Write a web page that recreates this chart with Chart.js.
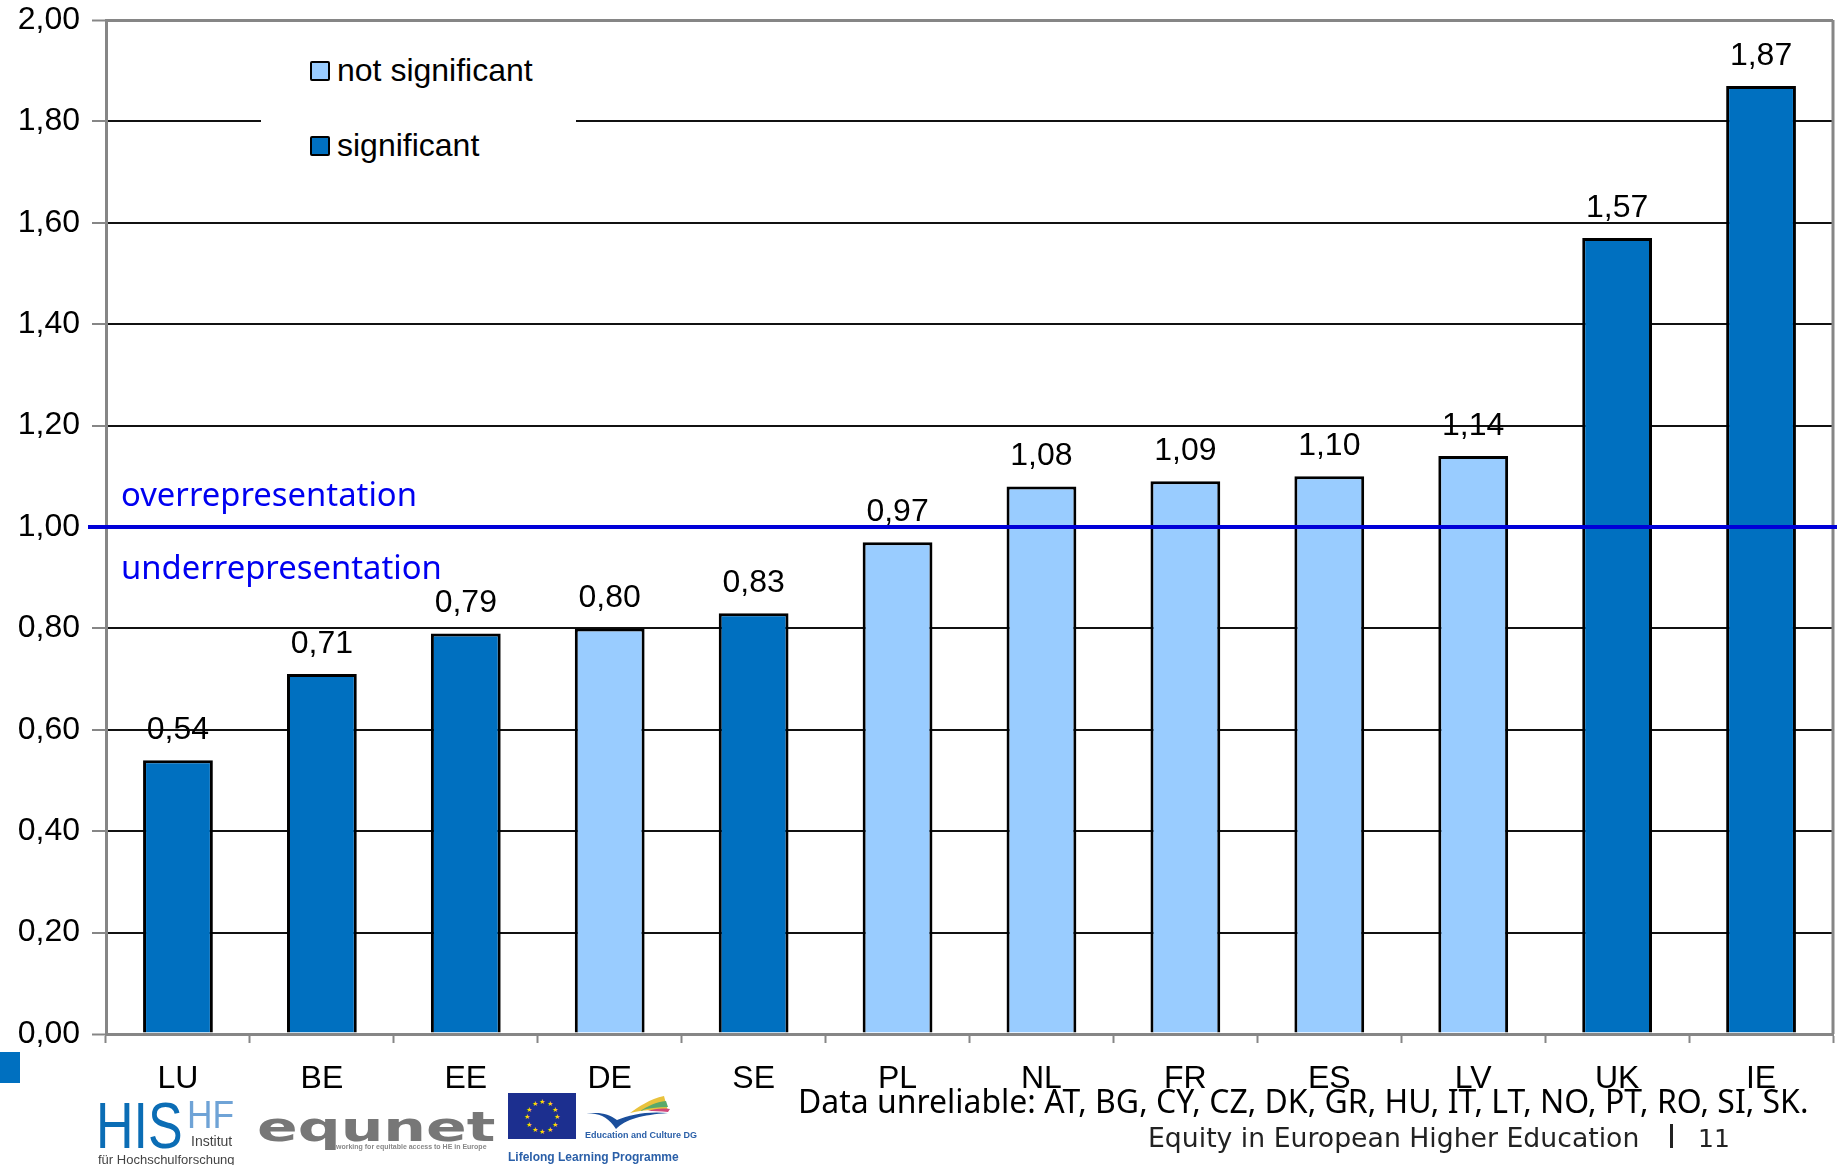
<!DOCTYPE html>
<html>
<head>
<meta charset="utf-8">
<title>Equity in European Higher Education</title>
<script src="https://cdn.jsdelivr.net/npm/chart.js@4"></script>
<style>
    html, body { margin: 0; padding: 0; background: #fff; }
    #page { position: relative; width: 1841px; height: 1165px; overflow: hidden; }
    #chart { position: absolute; left: 0; top: 0; }
    .txt { position: absolute; white-space: nowrap; line-height: 1; transform-origin: left top; }
    #legendBox { position: absolute; left: 261px; top: 30px; width: 315px; height: 136px; background: #fff; }
    .legendRow { position: absolute; left: 49px; font: 32px "Liberation Sans", sans-serif; color: #000; white-space: nowrap; line-height: 34px; }
    .legendRow i { display: inline-block; width: 16px; height: 16px; border: 2.5px solid #000; border-radius: 2px; margin-right: 7px; vertical-align: 0; }
    .blueNote { left: 121px; font: 32.8px "Noto Sans", sans-serif; color: #0000f0; }
    #corner { position: absolute; left: 0; top: 1052px; width: 20px; height: 31px; background: #0070c0; }
</style>
</head>
<body>
<div id="page">
    <canvas id="chart" width="1841" height="1165"></canvas>
    <div id="legendBox"></div>
    <div class="txt blueNote" style="top:471px">overrepresentation</div>
    <div class="txt blueNote" style="top:544px">underrepresentation</div>
    <div id="corner"></div>

    <!-- institute logo -->
    <div class="txt" style="left:96px;top:1088px;font:65px 'Liberation Sans',sans-serif;color:#0b6db5;transform:scaleX(.8)">HIS</div>
    <div class="txt" style="left:187px;top:1094px;font:38px 'Liberation Sans',sans-serif;color:#6fa3d6;transform:scaleX(.93)">HF</div>
    <div class="txt" style="left:191px;top:1133px;font:14px 'Liberation Sans',sans-serif;color:#444">Institut</div>
    <div class="txt" style="left:98px;top:1152px;font:13px 'Liberation Sans',sans-serif;color:#444">für Hochschulforschung</div>

    <!-- network logo -->
    <div class="txt" style="left:257px;top:1104px;font:bold 40px 'DejaVu Sans',sans-serif;color:#777;transform:scaleX(1.5)">equnet</div>
    <div class="txt" style="left:336px;top:1143px;font:bold 7px 'Liberation Sans',sans-serif;color:#888">working for equitable access to HE in Europe</div>

    <!-- programme logo -->
    <svg id="flag" style="position:absolute;left:508px;top:1093px" width="68" height="46"></svg>
    <svg style="position:absolute;left:580px;top:1093px" width="92" height="42" viewBox="0 0 92 42">
        <path d="M2 22 C18 18 28 24 36 36 C46 26 62 22 88 20 C66 18 50 22 37 27 C28 20 16 18 2 22Z" fill="#1b4f9c"/>
        <path d="M50 20 C58 14 70 6 84 3 L88 18 C74 16 62 17 50 20Z" fill="#e9c23d"/>
        <path d="M60 18 C68 13 76 9 86 8 L88 14 C78 14 68 15 60 18Z" fill="#5aa96b"/>
        <path d="M68 18 C74 16 80 15 90 16 L88 19 C80 18 74 18 68 18Z" fill="#d1477a"/>
    </svg>
    <div class="txt" style="left:585px;top:1130px;font:bold 9px 'Liberation Sans',sans-serif;color:#2a5fa8">Education and Culture DG</div>
    <div class="txt" style="left:508px;top:1150px;font:bold 12px 'Liberation Sans',sans-serif;color:#2a5fa8">Lifelong Learning Programme</div>

    <div class="txt" style="left:798px;top:1078px;font:33px 'Noto Sans',sans-serif;color:#000;transform:scaleX(.968)">Data unreliable: AT, BG, CY, CZ, DK, GR, HU, IT, LT, NO, PT, RO, SI, SK.</div>
    <div class="txt" style="left:1148px;top:1122px;font:26.7px 'DejaVu Sans',sans-serif;color:#222">Equity in European Higher Education</div>
    <div class="txt" style="left:1670px;top:1124px;width:3px;height:24px;background:#222"></div>
    <div class="txt" style="left:1698px;top:1124px;font:25px 'DejaVu Sans',sans-serif;color:#222">11</div>
</div>
<script>
const countries = ['LU', 'BE', 'EE', 'DE', 'SE', 'PL', 'NL', 'FR', 'ES', 'LV', 'UK', 'IE'];
const notSignificant = [null, null, null, 0.80, null, 0.97, 1.08, 1.09, 1.10, 1.14, null, null];
const significant = [0.54, 0.71, 0.79, null, 0.83, null, null, null, null, null, 1.57, 1.87];
const yTicks = ['0,00', '0,20', '0,40', '0,60', '0,80', '1,00', '1,20', '1,40', '1,60', '1,80', '2,00'];
const parityValue = 1;

const AXIS_GREY = '#868686';
const LABEL_FONT = '32px "Liberation Sans", sans-serif';

// Decimal comma, same format as the axis
function formatValue(v) {
    return v.toFixed(2).replace('.', ',');
}

// Frame on the right side of the plot
const plotFrame = {
    id: 'plotFrame',
    beforeDatasetsDraw(chart) {
        const { ctx, chartArea } = chart;
        ctx.save();
        ctx.strokeStyle = AXIS_GREY;
        ctx.lineWidth = 3;
        ctx.beginPath();
        ctx.moveTo(chartArea.right, chartArea.top);
        ctx.lineTo(chartArea.right, chartArea.bottom);
        ctx.stroke();
        ctx.restore();
    }
};

// Value above each bar plus the blue line at parity
const barExtras = {
    id: 'barExtras',
    afterDatasetsDraw(chart) {
        const { ctx, chartArea, scales } = chart;
        ctx.save();
        ctx.font = LABEL_FONT;
        ctx.fillStyle = '#000';
        ctx.textAlign = 'center';
        ctx.textBaseline = 'middle';
        chart.data.datasets.forEach((ds, i) => {
            chart.getDatasetMeta(i).data.forEach((bar, j) => {
                if (ds.data[j] === null) return;
                ctx.fillText(formatValue(ds.data[j]), bar.x, bar.y - 30);
            });
        });
        const y = scales.y.getPixelForValue(parityValue);
        ctx.strokeStyle = '#0000d8';
        ctx.lineWidth = 4;
        ctx.beginPath();
        ctx.moveTo(chartArea.left - 18, y);
        ctx.lineTo(chartArea.right + 4, y);
        ctx.stroke();
        ctx.restore();
    }
};

const chart = new Chart(document.getElementById('chart').getContext('2d'), {
    type: 'bar',
    data: {
        labels: countries,
        datasets: [
            { label: 'not significant', data: notSignificant, backgroundColor: '#99ccff', borderColor: '#000', borderWidth: 3 },
            { label: 'significant', data: significant, backgroundColor: '#0070c0', borderColor: '#000', borderWidth: 3 }
        ]
    },
    options: {
        responsive: false,
        animation: false,
        layout: { padding: { top: 20, right: 8, left: 0, bottom: 0 } },
        datasets: { bar: { barPercentage: 0.485, categoryPercentage: 1 } },
        plugins: { legend: { display: false }, tooltip: { enabled: false } },
        scales: {
            x: {
                stacked: true,
                border: { color: AXIS_GREY, width: 3 },
                grid: { drawOnChartArea: false, tickColor: AXIS_GREY, tickWidth: 2, tickLength: 9 },
                ticks: { color: '#000', font: { family: 'Liberation Sans', size: 32 }, padding: 17, maxRotation: 0 },
                afterFit(scale) { scale.height = 131; }
            },
            y: {
                min: 0,
                max: 2,
                border: { color: AXIS_GREY, width: 3 },
                grid: {
                    color: ctx => (ctx.tick.value === 2 || ctx.tick.value === 0) ? AXIS_GREY : '#111',
                    lineWidth: ctx => (ctx.tick.value === 2 || ctx.tick.value === 0) ? 3 : 2,
                    tickColor: AXIS_GREY,
                    tickLength: 14,
                    tickWidth: 2
                },
                ticks: {
                    stepSize: 0.2,
                    color: '#000',
                    font: { family: 'Liberation Sans', size: 32 },
                    padding: 12,
                    callback: (value, index) => yTicks[index]
                },
                // tick labels may overhang the plot, so no extra room at the ends
                afterFit(scale) {
                    scale.width = 106;
                    scale.paddingTop = 0;
                    scale.paddingBottom = 0;
                }
            }
        }
    },
    plugins: [plotFrame, barExtras]
});

// Legend rows sit on a white box that interrupts the 1,80 gridline
const legendBox = document.getElementById('legendBox');
chart.data.datasets.forEach((ds, i) => {
    const row = document.createElement('div');
    row.className = 'legendRow';
    row.style.top = (23 + i * 75) + 'px';
    const swatch = document.createElement('i');
    swatch.style.background = ds.backgroundColor;
    row.appendChild(swatch);
    row.appendChild(document.createTextNode(ds.label));
    legendBox.appendChild(row);
});

// Ring of twelve stars on the flag
const flag = document.getElementById('flag');
let flagMarkup = '<rect width="68" height="46" fill="#1c2f8f"/>';
for (let i = 0; i < 12; i++) {
    const a = i * Math.PI / 6;
    const sx = 34 + 15 * Math.cos(a);
    const sy = 26 + 15 * Math.sin(a);
    flagMarkup += `<text x="${sx}" y="${sy}" font-size="7" text-anchor="middle" fill="#ffd800">★</text>`;
}
flag.innerHTML = flagMarkup;
</script>
</body>
</html>
